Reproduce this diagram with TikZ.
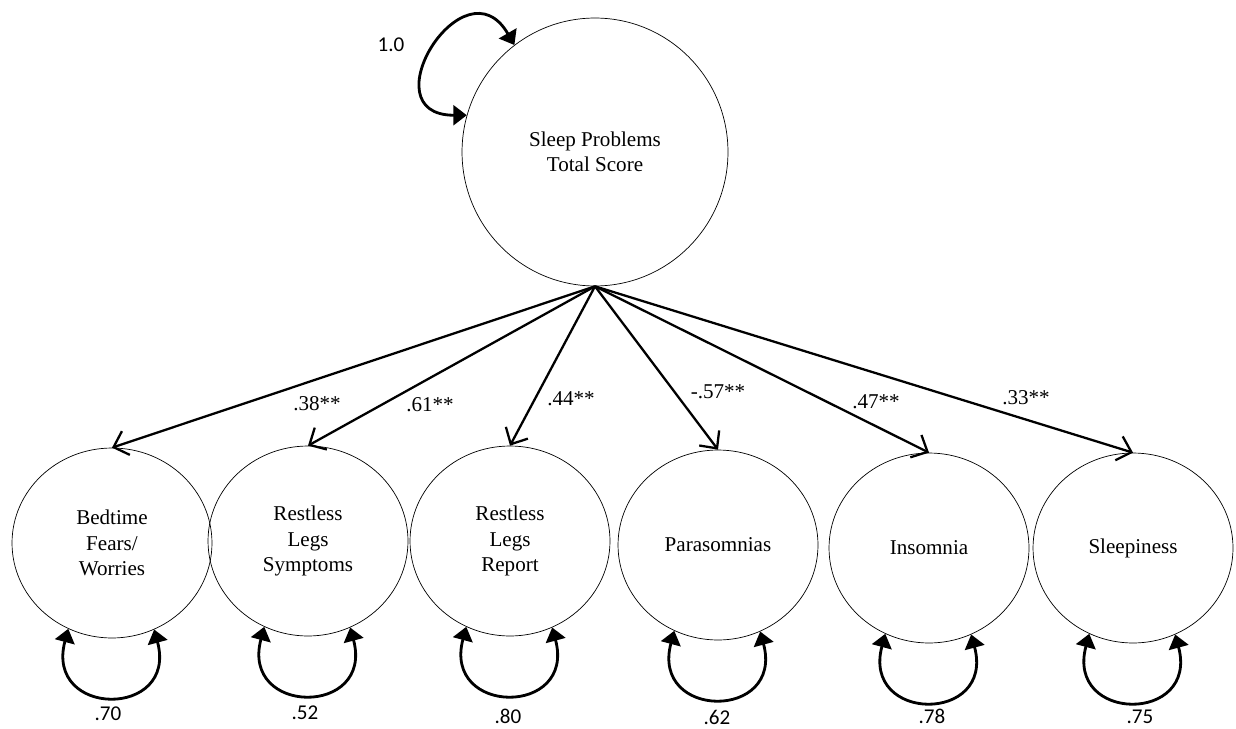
\documentclass[tikz,border=0pt]{standalone}
\usepackage{fontspec}
\setmainfont{Liberation Serif}
\newfontfamily\calfont{Carlito}
\usetikzlibrary{arrows.meta, shapes.geometric}

\begin{document}
\begin{tikzpicture}[x=0.02cm, y=0.02cm,
  latent/.style={ellipse, draw, thin, inner sep=0pt, align=center,
    minimum width=4cm, minimum height=3.8cm, font=\fontsize{12}{14.4}\selectfont},
  load/.style={line width=1.3pt, -{Straight Barb[length=2.6mm, width=5mm]}},
  resvar/.style={line width=1.6pt,
    {Triangle[length=2.7mm, width=4mm]}-{Triangle[length=2.7mm, width=4mm]}},
  coef/.style={font=\fontsize{12}{14.4}\selectfont},
  vlab/.style={font=\calfont\fontsize{12}{14.4}\selectfont}]
  \useasboundingbox (0,0) rectangle (1236,728);
  % total score
  \node[latent, minimum width=5.32cm, minimum height=5.36cm] (total) at (595,576)
    {Sleep Problems\\Total Score};
  \draw[resvar] (total.127) .. controls +(120:100) and +(180:100) .. (total.164);
  \node[vlab] (vtotal) at (391,683) {1.0};
  % subscales
  \node[latent] (bed) at (112,185) {Bedtime\\Fears/\\Worries};
  \node[latent] (rls) at (308,187) {Restless\\Legs\\Symptoms};
  \node[latent] (rlr) at (510,187) {Restless\\Legs\\Report};
  \node[latent] (par) at (718,183) {Parasomnias};
  \node[latent] (ins) at (929,180) {Insomnia};
  \node[latent] (slp) at (1133,180) {Sleepiness};
  % loadings
  \foreach \n in {bed,rls,rlr,par,ins,slp}
    \draw[load] (total.south) -- (\n.north);
  \node[coef] (lbed) at (317,324) {.38**};
  \node[coef] (lrls) at (430,323) {.61**};
  \node[coef] (lrlr) at (571,329) {.44**};
  \node[coef] (lpar) at (718,336) {-.57**};
  \node[coef] (lins) at (876,326) {.47**};
  \node[coef] (lslp) at (1026,330) {.33**};
  % residual variances
  \foreach \n in {bed,rls,rlr,par,ins,slp}
    \draw[resvar] (\n.243) to[out=-105, in=-75, looseness=2.75] (\n.296);
  \node[vlab] (vbed) at (108,14) {.70};
  \node[vlab] (vrls) at (305,15) {.52};
  \node[vlab] (vrlr) at (508,12) {.80};
  \node[vlab] (vpar) at (717,11) {.62};
  \node[vlab] (vins) at (932,12) {.78};
  \node[vlab] (vslp) at (1140,11) {.75};
\end{tikzpicture}
\end{document}
